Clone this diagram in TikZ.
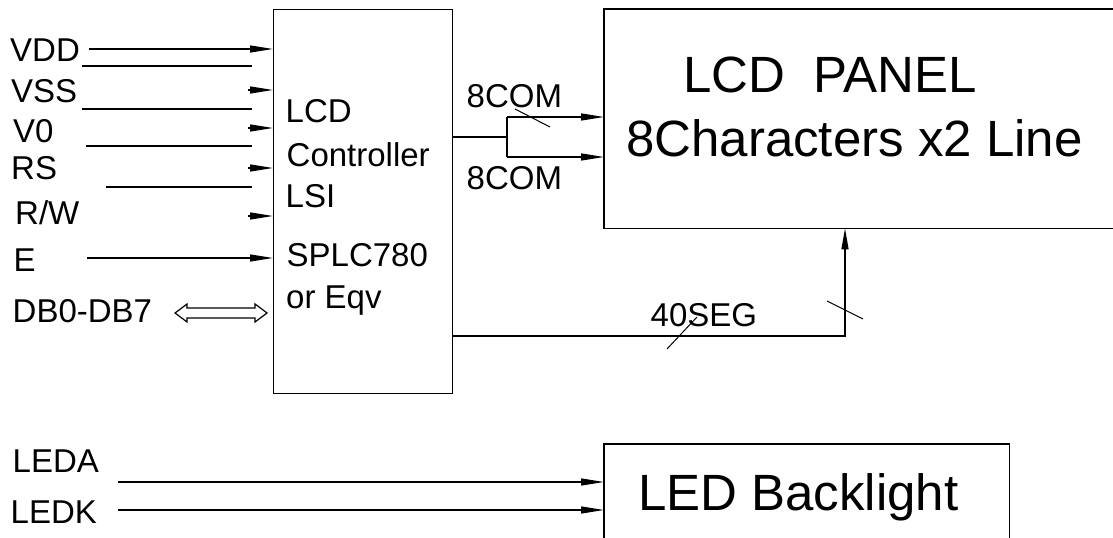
\documentclass[tikz,border=0pt]{standalone}
\usepackage{fontspec}
\setmainfont{Liberation Sans}
\usetikzlibrary{arrows.meta}
\begin{document}
\begin{tikzpicture}[x=1bp,y=-1bp,
  lbl/.style={inner sep=0pt, anchor=base west, font=\fontsize{33bp}{40bp}\selectfont},
  big/.style={inner sep=0pt, anchor=base west, font=\fontsize{51bp}{60bp}\selectfont},
  sig/.style={line width=1.3bp, -{Triangle[length=23bp,width=7bp]}},
  upsig/.style={line width=1.3bp, -{Triangle[length=21bp,width=7bp]}},
  wire/.style={line width=1.3bp},
  thin/.style={line width=1bp},
  bar/.style={line width=1.8bp},
  box/.style={line width=1.4bp},
  dbl/.style={line width=1.2bp, line join=miter}]
\useasboundingbox (0,0) rectangle (1113,538);

% blocks
\node[inner sep=0pt, minimum width=179bp, minimum height=384bp, anchor=north west, draw, box] (ctrl) at (273,9) {};
\node[inner sep=0pt, minimum width=509bp, minimum height=219bp, anchor=north west] (panel) at (604,9) {};
\draw[box] (panel.north east) -- (panel.north west) -- (panel.south west) -- (panel.south east);
\node[inner sep=0pt, minimum width=405bp, minimum height=94bp, anchor=north west] (led) at (604,444) {};
\draw[box] (led.south west) -- (led.north west) -- (led.north east) -- (led.south east);

% left labels
\node[lbl] (vdd) at (10,62) {VDD};
\node[lbl] (vss) at (11,103) {VSS};
\node[lbl] (v0) at (13,143) {V0};
\node[lbl] (rs) at (11,180) {RS};
\node[lbl] (rw) at (15,225) {R/W};
\node[lbl] (e) at (13.5,272) {E};
\node[lbl] (db) at (12.5,323) {DB0-DB7};
\node[lbl] (leda) at (12.5,472) {LEDA};
\node[lbl] (ledk) at (10.5,523) {LEDK};

% controller text
\node[lbl] (t1) at (285.5,123) {LCD};
\node[lbl] (t2) at (286.5,167) {Controller};
\node[lbl] (t3) at (285.5,208) {LSI};
\node[lbl] (t4) at (286.5,267) {SPLC780};
\node[lbl] (t5) at (286,309) {or Eqv};

% bus labels
\node[lbl] (com1) at (466.5,108) {8COM};
\node[lbl] (com2) at (466.5,190) {8COM};
\node[lbl] (seg) at (650.5,327) {40SEG};

% big texts
\node[big] (p1) at (683,93) {LCD\ \ PANEL};
\node[big] (p2) at (626,157) {8Characters x2 Line};
\node[big] (lb) at (638,510) {LED Backlight};

% input signals
\coordinate (vddS) at (89,49);
\draw[sig] (vddS) -- (vddS -| ctrl.west);
\coordinate (b1a) at (82,66);  \coordinate (b1b) at (252,66);
\coordinate (b2a) at (82,109); \coordinate (b2b) at (252,109);
\coordinate (b3a) at (86,146); \coordinate (b3b) at (252,146);
\coordinate (b4a) at (106,187);\coordinate (b4b) at (252,187);
\draw[bar] (b1a) -- (b1b);
\draw[bar] (b2a) -- (b2b);
\draw[bar] (b3a) -- (b3b);
\draw[bar] (b4a) -- (b4b);
\coordinate (h1) at (248,90);
\coordinate (h2) at (248,128);
\coordinate (h3) at (248,168);
\coordinate (h4) at (248,216);
\draw[sig] (h1) -- (h1 -| ctrl.west);
\draw[sig] (h2) -- (h2 -| ctrl.west);
\draw[sig] (h3) -- (h3 -| ctrl.west);
\draw[sig] (h4) -- (h4 -| ctrl.west);
\coordinate (eS) at (87,258);
\draw[sig] (eS) -- (eS -| ctrl.west);

% data bus double arrow
\draw[dbl] (175,313) -- (187,304) -- (187,308) -- (255,308) -- (255,304) -- (267,313)
  -- (255,322) -- (255,318) -- (187,318) -- (187,322) -- cycle;

% COM outputs
\coordinate (cj) at (507,137);
\coordinate (c1) at (507,117);
\coordinate (c2) at (507,157);
\draw[wire] (ctrl.east |- cj) -- (cj);
\draw[wire] (c1) -- (c2);
\draw[sig] (c1) -- (c1 -| panel.west);
\draw[sig] (c2) -- (c2 -| panel.west);
\coordinate (s1a) at (515,109); \coordinate (s1b) at (550,127);
\draw[thin] (s1a) -- (s1b);

% SEG output
\coordinate (sj) at (845,336);
\draw[upsig] (ctrl.east |- sj) -- (sj) -- (sj |- panel.south);
\coordinate (s2a) at (667,349); \coordinate (s2b) at (697,317);
\coordinate (s3a) at (827,301); \coordinate (s3b) at (863,319);
\draw[thin] (s2a) -- (s2b);
\draw[thin] (s3a) -- (s3b);

% LED inputs
\coordinate (la) at (118,482);
\coordinate (lk) at (118,510);
\draw[sig] (la) -- (la -| led.west);
\draw[sig] (lk) -- (lk -| led.west);
\end{tikzpicture}
\end{document}
